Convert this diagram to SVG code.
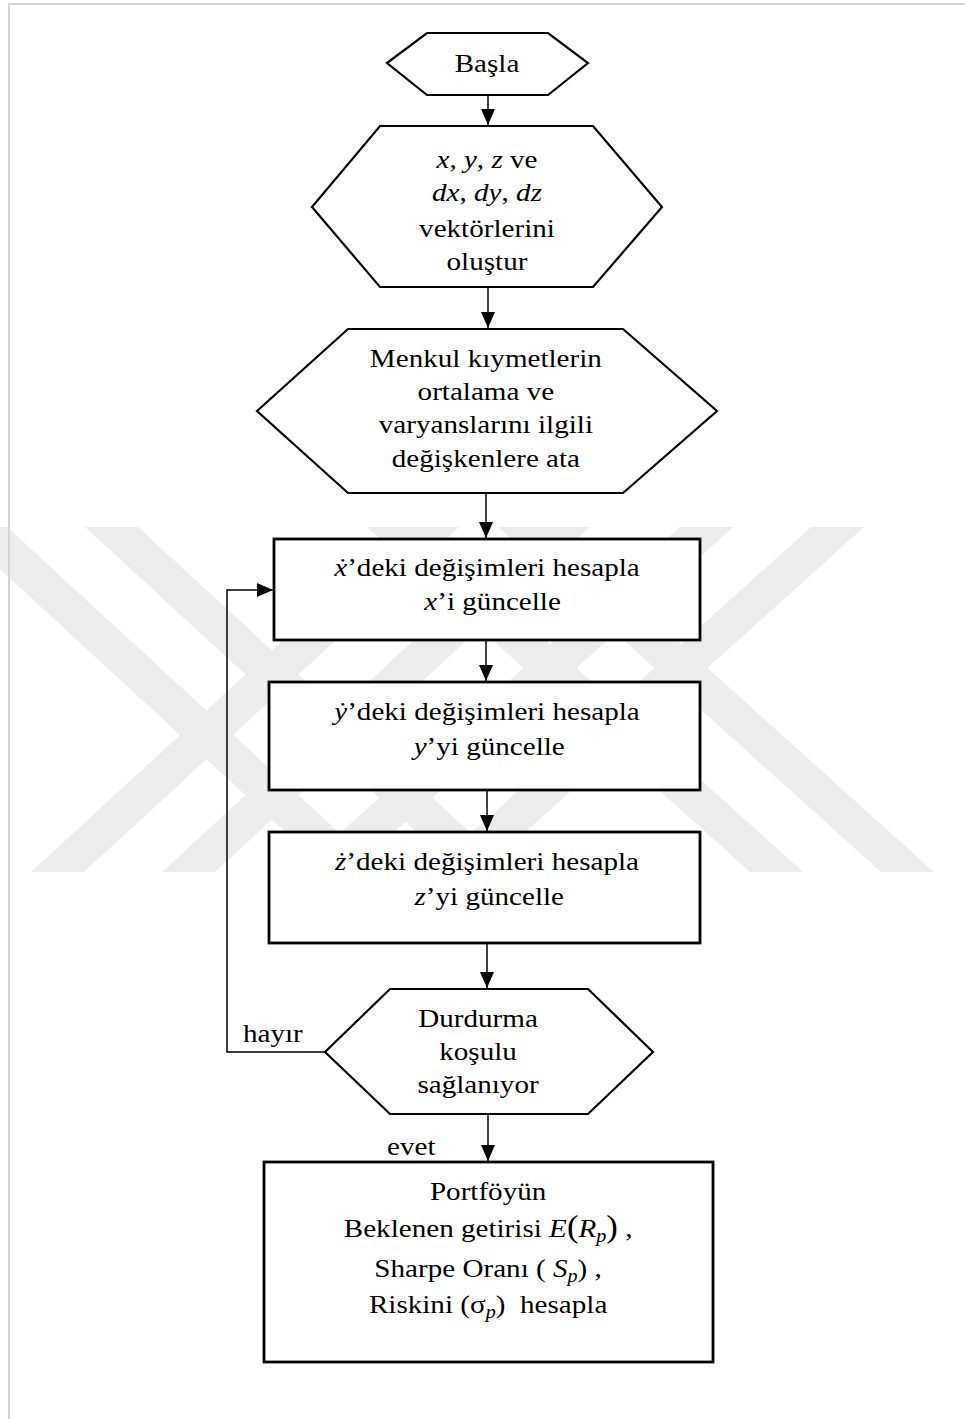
<svg xmlns="http://www.w3.org/2000/svg" width="965" height="1419" viewBox="0 0 965 1419">
  <style>
    .shape { fill: #ffffff; stroke: #000000; stroke-width: 2.2; stroke-linejoin: miter; }
    .box { fill: #ffffff; stroke: #000000; stroke-width: 2.8; }
    .wire { fill: none; stroke: #000000; stroke-width: 1.5; }
    .mark { fill: #ececec; }
    text { font-family: "Liberation Serif", "Times New Roman", serif; font-size: 26px; fill: #000000; }
    .c { text-anchor: middle; }
    .m { font-style: italic; }
  </style>
  <defs>
    <marker id="arrow" markerUnits="userSpaceOnUse" markerWidth="16" markerHeight="16" viewBox="0 0 16 14" refX="16" refY="7" orient="auto">
      <path d="M0,0 L16,7 L0,14 Z" fill="#000000"/>
    </marker>
  </defs>

  <rect x="0" y="0" width="965" height="1419" fill="#ffffff"/>

  <!-- background emblem: crossed diagonal bands -->
  <g id="emblem">
    <polygon class="mark" points="-46,527 7,527 382,872 329,872"/>
    <polygon class="mark" points="85,527 138,527 513,872 460,872"/>
    <polygon class="mark" points="31,872 84,872 459,527 406,527"/>
    <polygon class="mark" points="162,872 215,872 590,527 537,527"/>
    <polygon class="mark" points="811,527 864,527 481,872 428,872"/>
    <polygon class="mark" points="680,527 733,527 350,872 297,872"/>
    <polygon class="mark" points="881,872 934,872 551,527 498,527"/>
    <polygon class="mark" points="750,872 803,872 420,527 367,527"/>
  </g>

  <!-- page frame -->
  <path d="M9,1419 L9,4 L965,4" fill="none" stroke="#d4d4d4" stroke-width="2"/>

  <g id="start">
    <polygon class="shape" points="387,63 427,33 548,33 588,63 548,95 427,95"/>
  </g>
  <g id="create-vectors">
    <polygon class="shape" points="312,207 380,126 593,126 662,207 593,287 380,287"/>
  </g>
  <g id="assign-stats">
    <polygon class="shape" points="257,411 348,329 623,329 717,411 623,493 348,493"/>
  </g>
  <g id="update-x">
    <rect class="box" x="274" y="539" width="426" height="101"/>
  </g>
  <g id="update-y">
    <rect class="box" x="269" y="682" width="431" height="108"/>
  </g>
  <g id="update-z">
    <rect class="box" x="269" y="832" width="431" height="111"/>
  </g>
  <g id="stop-check">
    <polygon class="shape" points="325,1052 390,989 588,989 653,1052 588,1114 390,1114"/>
  </g>
  <g id="results">
    <rect class="box" x="264" y="1162" width="449" height="200"/>
  </g>

  <g id="connectors">
    <line class="wire" x1="488" y1="95" x2="488" y2="125" marker-end="url(#arrow)"/>
    <line class="wire" x1="488" y1="287" x2="488" y2="328" marker-end="url(#arrow)"/>
    <line class="wire" x1="486" y1="493" x2="486" y2="538" marker-end="url(#arrow)"/>
    <line class="wire" x1="486" y1="640" x2="486" y2="681" marker-end="url(#arrow)"/>
    <line class="wire" x1="487" y1="790" x2="487" y2="831" marker-end="url(#arrow)"/>
    <line class="wire" x1="487" y1="943" x2="487" y2="988" marker-end="url(#arrow)"/>
    <line class="wire" x1="488" y1="1114" x2="488" y2="1161" marker-end="url(#arrow)"/>
    <polyline class="wire" points="325,1052 227,1052 227,590 273,590" marker-end="url(#arrow)"/>
  </g>

  <!-- labels, set slightly wide about the centre column -->
  <g id="labels" transform="matrix(1.12 0 0 1 -58.44 0)">
    <text class="c" x="487" y="72">Başla</text>

    <text class="c" x="487" y="168"><tspan class="m">x</tspan>, <tspan class="m">y</tspan>, <tspan class="m">z</tspan> ve</text>
    <text class="c" x="487" y="201"><tspan class="m">dx</tspan>, <tspan class="m">dy</tspan>, <tspan class="m">dz</tspan></text>
    <text class="c" x="487" y="237">vektörlerini</text>
    <text class="c" x="487" y="270">oluştur</text>

    <text class="c" x="486" y="367">Menkul kıymetlerin</text>
    <text class="c" x="486" y="400">ortalama ve</text>
    <text class="c" x="486" y="433">varyanslarını ilgili</text>
    <text class="c" x="486" y="467">değişkenlere ata</text>

    <text class="c" x="487" y="576"><tspan class="m">ẋ</tspan>’deki değişimleri hesapla</text>
    <text class="c" x="492" y="610"><tspan class="m">x</tspan>’i güncelle</text>

    <text class="c" x="487" y="720"><tspan class="m">ẏ</tspan>’deki değişimleri hesapla</text>
    <text class="c" x="489" y="755"><tspan class="m">y</tspan>’yi güncelle</text>

    <text class="c" x="487" y="870"><tspan class="m">ż</tspan>’deki değişimleri hesapla</text>
    <text class="c" x="489" y="905"><tspan class="m">z</tspan>’yi güncelle</text>

    <text class="c" x="479" y="1027">Durdurma</text>
    <text class="c" x="479" y="1060">koşulu</text>
    <text class="c" x="479" y="1093">sağlanıyor</text>

    <text x="269.1" y="1042">hayır</text>
    <text x="397.7" y="1155">evet</text>

    <text class="c" x="488" y="1200">Portföyün</text>
    <text class="c" x="488" y="1237">Beklenen getirisi <tspan class="m">E</tspan><tspan font-size="31">(</tspan><tspan class="m">R</tspan><tspan class="m" font-size="18" dy="5">p</tspan><tspan font-size="31" dy="-5">)</tspan> ,</text>
    <text class="c" x="488" y="1277">Sharpe Oranı ( <tspan class="m">S</tspan><tspan class="m" font-size="18" dy="5">p</tspan><tspan dy="-5">) ,</tspan></text>
    <text class="c" x="488" y="1313">Riskini (σ<tspan class="m" font-size="18" dy="5">p</tspan><tspan dy="-5">)&#160; hesapla</tspan></text>
  </g>
</svg>
